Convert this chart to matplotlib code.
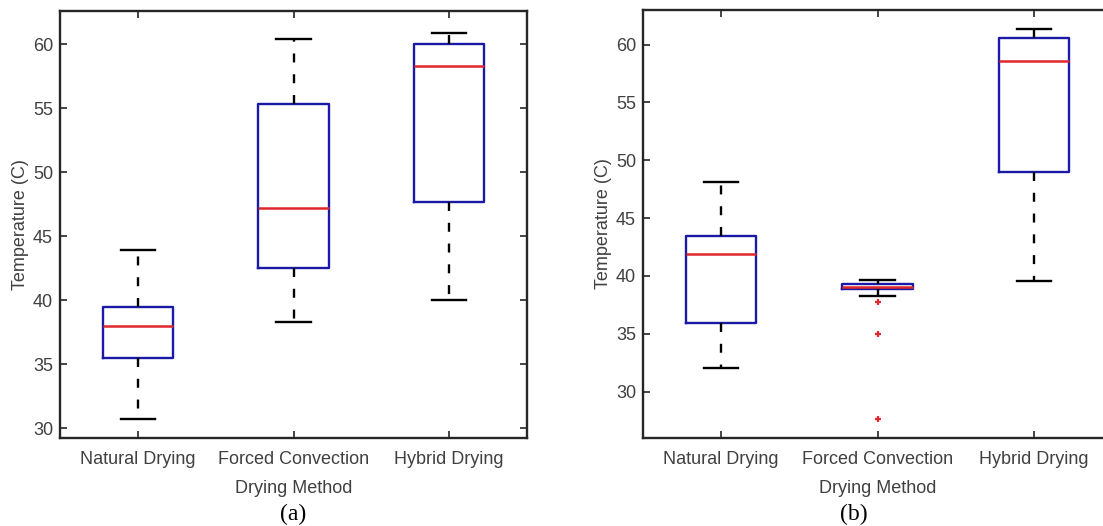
import numpy as np
import matplotlib
matplotlib.use("Agg")
import matplotlib.pyplot as plt

plt.rcParams['font.family'] = ['Liberation Sans', 'DejaVu Sans']

methods = ["Natural Drying", "Forced Convection", "Hybrid Drying"]

# panel (a): lower whisker, q1, median, q3, upper whisker
a_lo = [30.7, 38.3, 40.0]
a_q1 = [35.5, 42.5, 47.7]
a_med = [38.0, 47.2, 58.3]
a_q3 = [39.5, 55.35, 60.0]
a_hi = [43.9, 60.45, 60.9]
a_out = [[], [], []]

# panel (b)
b_lo = [32.05, 38.27, 39.55]
b_q1 = [35.95, 38.85, 48.98]
b_med = [41.93, 39.08, 58.58]
b_q3 = [43.49, 39.34, 60.61]
b_hi = [48.13, 39.63, 61.36]
b_out = [[], [37.75, 34.94, 27.62], []]

blue = '#1a1aa6'
red = '#e0282a'
spine_c = '#262626'
text_c = '#404040'


def make_stats(lo, q1, med, q3, hi, out):
    stats = []
    for i in range(len(lo)):
        stats.append(dict(whislo=lo[i], q1=q1[i], med=med[i], q3=q3[i],
                          whishi=hi[i], fliers=out[i]))
    return stats


def draw(ax, stats, ylim):
    ax.bxp(stats, positions=[1, 2, 3], widths=0.45, capwidths=0.22,
           showfliers=True,
           boxprops=dict(color=blue, linewidth=1.7),
           medianprops=dict(color=red, linewidth=1.8),
           whiskerprops=dict(color='black', linewidth=1.7, linestyle=(0, (3.8, 5))),
           capprops=dict(color='black', linewidth=1.7),
           flierprops=dict(marker='+', markeredgecolor=red, markersize=5,
                           markeredgewidth=1.6, linestyle='none'))
    ax.set_xlim(0.5, 3.5)
    ax.set_ylim(*ylim)
    ax.set_yticks([30, 35, 40, 45, 50, 55, 60])
    ax.set_xticks([1, 2, 3])
    ax.set_xticklabels(methods)
    ax.tick_params(direction='in', top=True, right=True, length=5,
                   width=1.2, colors=spine_c, labelcolor=text_c, labelsize=13)
    ax.tick_params(axis='x', pad=9)
    ax.tick_params(axis='y', pad=5)
    for s in ax.spines.values():
        s.set_color(spine_c)
        s.set_linewidth(1.7)
    ax.set_xlabel("Drying Method", fontsize=13, color=text_c, labelpad=9)
    ax.set_ylabel("Temperature (C)", fontsize=13, color=text_c, labelpad=3)


fig = plt.figure(figsize=(11.03, 5.26), dpi=100)
W, H = 1103.0, 526.0
ax1 = fig.add_axes([60 / W, 88 / H, 467 / W, 427 / H])
ax2 = fig.add_axes([643 / W, 88 / H, 469 / W, 428 / H])

draw(ax1, make_stats(a_lo, a_q1, a_med, a_q3, a_hi, a_out), (29.24, 62.6))
draw(ax2, make_stats(b_lo, b_q1, b_med, b_q3, b_hi, b_out), (25.99, 62.99))

fig.text(293 / W, 1 - 514 / H, "(a)", family='Liberation Serif', fontsize=17,
         ha='center', va='center')
fig.text(854 / W, 1 - 514 / H, "(b)", family='Liberation Serif', fontsize=17,
         ha='center', va='center')

fig.savefig("out.png", dpi=100)
